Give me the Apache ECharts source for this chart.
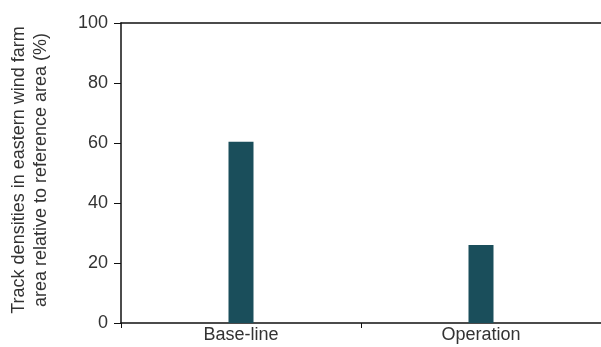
<!DOCTYPE html>
<html><head><meta charset="utf-8">
<script src="https://cdn.jsdelivr.net/npm/echarts@6/dist/echarts.min.js"></script>
<style>html,body{margin:0;padding:0;background:#fff}#c{width:601px;height:347px}</style>
</head><body><div id="c"></div>
<script>
const categories = ["Base-line", "Operation"];
const values = [60.4, 26];
const yTicks = [0, 20, 40, 60, 80, 100];

const chart = echarts.init(document.getElementById('c'), null, {renderer: 'canvas'});
const font = '"Liberation Sans", Arial, sans-serif';
chart.setOption({
  animation: false,
  grid: {left: 121, right: 0, top: 23, bottom: 24},
  xAxis: [{
    type: 'category', data: categories, position: 'bottom',
    axisLine: {lineStyle: {color: '#111', width: 1.5}},
    axisTick: {show: true, length: 5, lineStyle: {color: '#111'}},
    axisLabel: {color: '#333', fontSize: 18, fontFamily: font, margin: 3}
  }, {
    type: 'category', data: categories, position: 'top',
    axisLine: {show: true, lineStyle: {color: '#111', width: 1.5}},
    axisTick: {show: false}, axisLabel: {show: false}
  }],
  yAxis: {
    type: 'value', min: yTicks[0], max: yTicks[yTicks.length - 1], interval: 20,
    name: 'Track densities in eastern wind farm\narea relative to reference area (%)',
    nameLocation: 'middle', nameGap: 69, nameRotate: 90,
    nameTextStyle: {color: '#333', fontSize: 18, fontFamily: font, lineHeight: 22, padding: [0, 0, 0, 6]},
    axisLine: {show: true, lineStyle: {color: '#111', width: 1.5}},
    axisTick: {show: true, length: 7, lineStyle: {color: '#111'}},
    axisLabel: {color: '#333', fontSize: 18, fontFamily: font, margin: 13},
    splitLine: {show: false}
  },
  series: [{
    type: 'bar', data: values, barWidth: 25,
    itemStyle: {color: '#1a4e5b'}
  }]
});
</script></body></html>
